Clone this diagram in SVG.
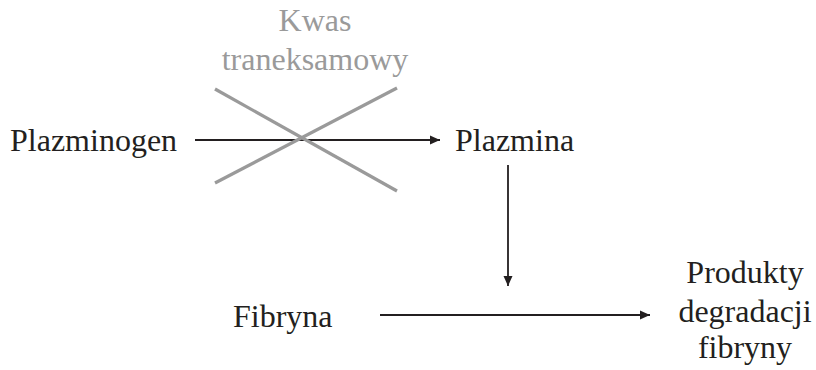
<svg xmlns="http://www.w3.org/2000/svg" width="816" height="370" viewBox="0 0 816 370">
<style>
text{font-family:'Liberation Serif','Times New Roman',serif;font-size:32px;fill:#231f20}
.g{fill:#9a9a9a}
.c{stroke:#231f20;stroke-width:1.8;fill:none}
.x{stroke:#9a9a9a;stroke-width:3.2;fill:none}
</style>
<defs>
<marker id="ah" viewBox="0 0 10 10" refX="10" refY="5" markerWidth="10" markerHeight="10" markerUnits="userSpaceOnUse" orient="auto">
<path d="M0,0.5 L10,5 L0,9.5 Z" fill="#231f20"/>
</marker>
</defs>
<g id="kwas"><text class="g" x="315" y="31" text-anchor="middle">Kwas</text><text class="g" x="315" y="70" text-anchor="middle">traneksamowy</text></g>
<g id="plazminogen"><text x="10" y="151">Plazminogen</text></g>
<g id="plazmina"><text x="455" y="151">Plazmina</text></g>
<g id="fibryna"><text x="233" y="327">Fibryna</text></g>
<g id="produkty"><text x="745" y="283" text-anchor="middle">Produkty</text><text x="745" y="322" text-anchor="middle">degradacji</text><text x="745" y="358" text-anchor="middle">fibryny</text></g>
<g id="connectors">
<line class="c" x1="195" y1="140" x2="440" y2="140" marker-end="url(#ah)"/>
<line class="c" x1="508" y1="165" x2="508" y2="286" marker-end="url(#ah)"/>
<line class="c" x1="380" y1="315" x2="650" y2="315" marker-end="url(#ah)"/>
<line class="x" x1="215" y1="89" x2="397" y2="191"/>
<line class="x" x1="397" y1="88" x2="215" y2="183"/>
</g>
</svg>
